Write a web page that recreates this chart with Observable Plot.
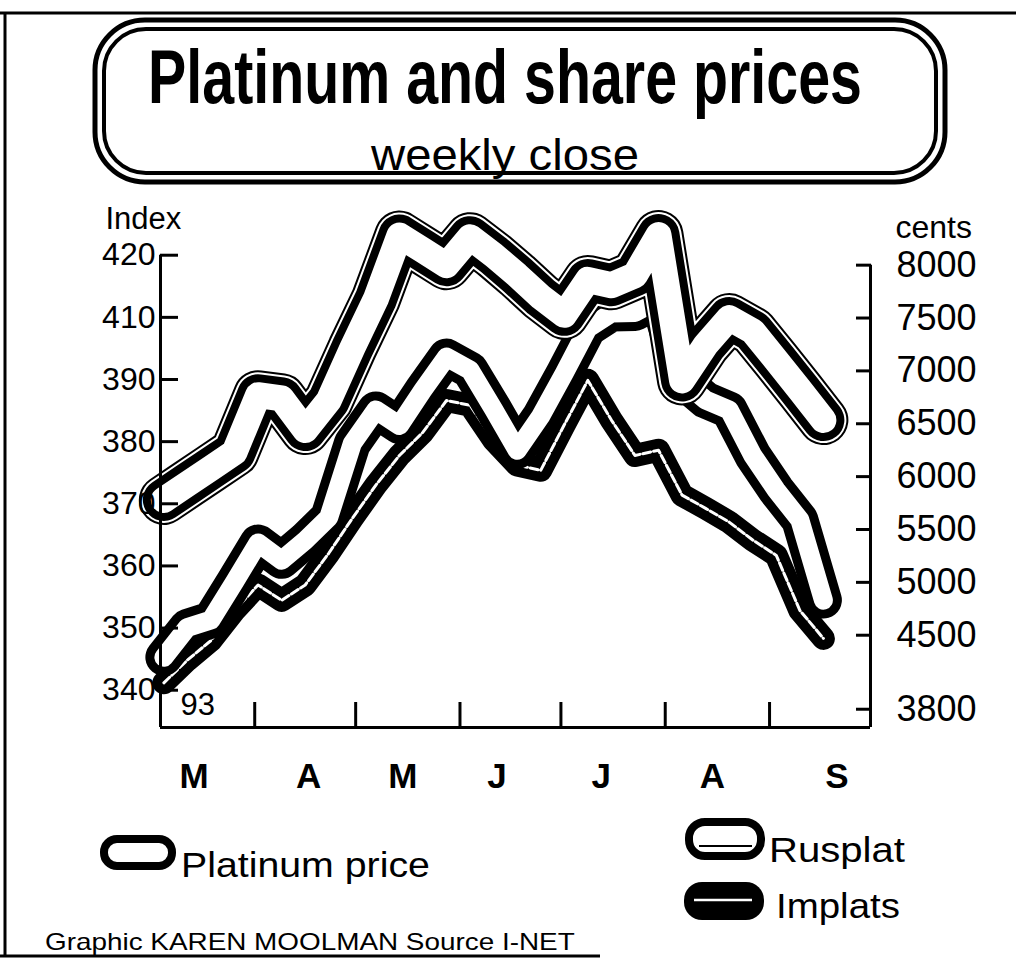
<!DOCTYPE html>
<html>
<head>
<meta charset="utf-8">
<script src="https://cdn.jsdelivr.net/npm/d3@7"></script>
<script src="https://cdn.jsdelivr.net/npm/@observablehq/plot@0.6"></script>
<style>
  body { margin: 0; background: #fff; }
  #wrap { position: relative; width: 1016px; height: 972px; overflow: hidden; background: #fff;
          font-family: "Liberation Sans", Arial, Helvetica, sans-serif; }
  #wrap > svg { position: absolute; left: 0; top: 0; }
</style>
</head>
<body>
<div id="wrap">
<svg id="annot" width="1016" height="972" xmlns="http://www.w3.org/2000/svg"
     font-family="Liberation Sans, Arial, Helvetica, sans-serif">
  <!-- outer frame -->
  <line x1="0" y1="13" x2="1016" y2="13" stroke="#000" stroke-width="3"/>
  <line x1="5" y1="12" x2="5" y2="957" stroke="#000" stroke-width="3"/>
  <line x1="0" y1="956" x2="600" y2="956" stroke="#000" stroke-width="3"/>
  <!-- title box -->
  <rect x="95" y="20" width="850" height="162" rx="50" fill="#fff" stroke="none"/>
  <text x="505" y="103" text-anchor="middle" font-size="76" font-weight="bold" data-w="714">Platinum and share prices</text>
  <text x="505" y="170" text-anchor="middle" font-size="44" data-w="268">weekly close</text>
  <rect x="95" y="20" width="850" height="162" rx="50" fill="none" stroke="#000" stroke-width="5"/>
  <rect x="104" y="29" width="832" height="144" rx="42" fill="none" stroke="#000" stroke-width="4"/>
  <!-- legend -->
  <rect x="104" y="839" width="68" height="27" rx="13" fill="#fff" stroke="#000" stroke-width="8"/>
  <text x="181" y="877" font-size="35" data-w="249">Platinum price</text>
  <rect x="689" y="822" width="72" height="34" rx="16" fill="#fff" stroke="#000" stroke-width="8"/>
  <line x1="699" y1="846" x2="752" y2="846" stroke="#000" stroke-width="2"/>
  <text x="769" y="862" font-size="35" data-w="136">Rusplat</text>
  <rect x="684" y="882" width="80" height="38" rx="18" fill="#000"/>
  <line x1="694" y1="900" x2="752" y2="900" stroke="#fff" stroke-width="2.5"/>
  <text x="776" y="918" font-size="35" data-w="124">Implats</text>
  <!-- credit -->
  <text x="45" y="950" font-size="23" data-w="530">Graphic  KAREN MOOLMAN   Source  I-NET</text>
</svg>
</div>
<script>
// ---- data ----
const weeks = ["1993-03-05","1993-03-12","1993-03-19","1993-03-26","1993-04-02","1993-04-09",
  "1993-04-16","1993-04-23","1993-04-30","1993-05-07","1993-05-14","1993-05-21","1993-05-28",
  "1993-06-04","1993-06-11","1993-06-18","1993-06-25","1993-07-02","1993-07-09","1993-07-16",
  "1993-07-23","1993-07-30","1993-08-06","1993-08-13","1993-08-20","1993-08-27","1993-09-03",
  "1993-09-10","1993-09-17"];
// Platinum price, left-hand "index" scale
const platinum = [345.3, 350.1, 351.3, 357.4, 363.7, 360.9, 364.1, 367.8, 379.7, 385.1, 382.6,
  388.3, 397.2, 393.0, 385.2, 378.6, 384.1, 392.0, 406.5, 410.7, 410.8, 412.8, 389.9, 386.7,
  385.1, 377.8, 372.2, 367.4, 354.5];
// Rusplat, right-hand scale (cents)
const rusplat = [5780, 5930, 6080, 6230, 6770, 6740, 6440, 6720, 7215, 7680, 8280, 8140, 8000,
  8265, 8095, 7905, 7700, 7530, 7860, 7810, 7905, 8285, 6910, 7245, 7500, 7375, 7100, 6820, 6535];
// Implats, right-hand scale (cents)
const implats = [4050, 4265, 4450, 4735, 4975, 4830, 4975, 5275, 5605, 5920, 6200, 6420, 6720,
  6675, 6345, 6110, 6060, 6490, 6910, 6535, 6200, 6250, 5825, 5700, 5570, 5400, 5255, 4735, 4470];

const leftTicks = [340, 350, 360, 370, 380, 390, 410, 420];      // as printed
const rightTicks = [3800, 4500, 5000, 5500, 6000, 6500, 7000, 7500, 8000];
const monthStarts = ["1993-04-01","1993-05-01","1993-06-01","1993-07-01","1993-08-01","1993-09-01"];
const monthLabelDates = ["1993-03-14","1993-04-17","1993-05-15","1993-06-12","1993-07-13","1993-08-15","1993-09-21"];
const monthLabels = ["M","A","M","J","J","A","S"];
const yearLabel = "93";
const xDomain = ["1993-03-04", "1993-10-01"];

// condensed lettering for the title, legend and credit
document.querySelectorAll("#annot text[data-w]").forEach(t => {
  const w = +t.dataset.w, len = t.getComputedTextLength();
  const x = +t.getAttribute("x"), y = +t.getAttribute("y");
  const k = len > 0 ? w / len : 1;
  t.setAttribute("transform", `translate(${x},${y}) scale(${k},1) translate(${-x},${-y})`);
});

// ---- scales shared by the two y axes ----
const parse = d3.utcParse("%Y-%m-%d");
// left axis: printed labels are evenly spaced, so map them piecewise onto tick slots
const idxToSlot = d3.scaleLinear().domain(leftTicks).range(leftTicks.map((_, i) => i));
// right axis: linear in cents
const centsToSlot = d3.scaleLinear().domain([4500, 8000]).range([0.885, 6.84]);

const rows = (vals, conv) => weeks.map((w, i) => ({date: parse(w), v: conv(vals[i])}));
const rus = rows(rusplat, centsToSlot);
const pla = rows(platinum, idxToSlot);
const imp = rows(implats, centsToSlot);

const x0 = parse(xDomain[0]), x1 = parse(xDomain[1]);
const yBottom = -0.6, yTop = 7.8;

const ribbon = (data, layers) => layers.map(([stroke, w, dash]) =>
  Plot.line(data, {x: "date", y: "v", stroke, strokeWidth: w, strokeLinejoin: "round",
                   strokeLinecap: "round", strokeDasharray: dash}));

const rightSlots = rightTicks.map(centsToSlot);
const rightLabel = s => String(rightTicks[rightSlots.findIndex(r => Math.abs(r - s) < 1e-9)]);
const leftLabel = s => String(leftTicks[Math.round(s)]);
const monthMap = new Map(monthLabelDates.map((d, i) => [+parse(d), monthLabels[i]]));

const chart = Plot.plot({
  width: 1016, height: 972,
  marginLeft: 160, marginRight: 146, marginTop: 205, marginBottom: 245,
  x: {type: "utc", domain: [x0, x1]},
  y: {domain: [yBottom, yTop]},
  style: {fontFamily: "Liberation Sans, Arial, Helvetica, sans-serif", background: "transparent", color: "#000", overflow: "visible"},
  marks: [
    ...ribbon(imp, [["#000", 23], ["#fff", 3, "8 3"]]),
    ...ribbon(pla, [["#000", 37], ["#fff", 19]]),
    ...ribbon(rus, [["#000", 50], ["#fff", 46], ["#000", 42], ["#fff", 26]]),
    // axis lines
    Plot.ruleX([x0], {y1: yBottom, y2: idxToSlot(leftTicks[leftTicks.length - 1]), strokeWidth: 3}),
    Plot.ruleX([x1], {y1: yBottom, y2: centsToSlot(rightTicks[rightTicks.length - 1]), strokeWidth: 3}),
    Plot.ruleY([yBottom], {strokeWidth: 3}),
    // left axis (ticks point inward)
    Plot.axisY(leftTicks.map(idxToSlot), {anchor: "left", tickSize: 18, dx: 18, fill: "none", strokeWidth: 3, label: null}),
    Plot.axisY(leftTicks.map(idxToSlot), {anchor: "left", tickSize: 0, tickPadding: 5,
      tickFormat: leftLabel, fontSize: 32, label: null}),
    // right axis
    Plot.axisY(rightSlots, {anchor: "right", tickSize: 15, dx: -15, fill: "none", strokeWidth: 3, label: null}),
    Plot.axisY(rightSlots, {anchor: "right", tickSize: 0, tickPadding: 26,
      tickFormat: rightLabel, fontSize: 36, label: null}),
    // x axis
    Plot.axisX(monthStarts.map(parse), {anchor: "bottom", tickSize: 25, dy: -25, fill: "none", strokeWidth: 3, label: null}),
    Plot.axisX(monthLabelDates.map(parse), {anchor: "bottom", tickSize: 0, tickPadding: 36,
      tickFormat: d => monthMap.get(+d), fontSize: 35, fontWeight: "bold", label: null}),
    // axis titles and year
    Plot.text(["Index"], {frameAnchor: "top-left", textAnchor: "start", lineAnchor: "bottom", dx: -55, dy: 23, fontSize: 31}),
    Plot.text(["cents"], {frameAnchor: "top-right", textAnchor: "start", lineAnchor: "bottom", dx: 25, dy: 32, fontSize: 32}),
    Plot.text([yearLabel], {frameAnchor: "bottom-left", textAnchor: "start", lineAnchor: "bottom", dx: 20, dy: -13, fontSize: 31})
  ]
});
document.getElementById("wrap").appendChild(chart);
</script>
</body>
</html>
